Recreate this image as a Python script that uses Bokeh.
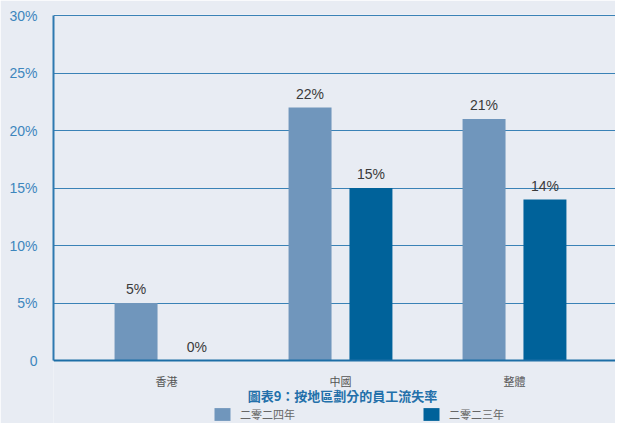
from bokeh.plotting import figure
from bokeh.models import (ColumnDataSource, Range1d, FixedTicker, LabelSet, Label,
                          Legend, LegendItem, Span)
from bokeh.core.properties import value
from bokeh.embed import file_html
from bokeh.resources import INLINE
import numpy as np

# ---- data ----
categories = ["香港", "中國", "整體"]
rate_2024 = [5, 22, 21]
rate_2023 = [0, 15, 14]
series_names = ["二零二四年", "二零二三年"]
y_ticks = [0, 5, 10, 15, 20, 25, 30]
y_tick_labels = ["0", "5%", "10%", "15%", "20%", "25%", "30%"]
chart_title = "圖表9：按地區劃分的員工流失率"

# ---- styles ----
BG = "#e8ecf3"
C24 = "#7096bc"
C23 = "#00629a"
GRID = "#3a82b6"
TICK_C = "#3d86bd"
LATIN = "Liberation Sans"
CJK = "Noto Sans CJK TC"

xs = np.arange(len(categories))
off = 0.175
bw = 0.247

src24 = ColumnDataSource(dict(x=xs - off, top=rate_2024,
                              lab=[f"{v}%" for v in rate_2024]))
src23 = ColumnDataSource(dict(x=xs + off, top=rate_2023,
                              lab=[f"{v}%" for v in rate_2023]))
src_cat = ColumnDataSource(dict(x=xs, y=[0] * len(categories), lab=categories))

p = figure(width=615, height=423, output_backend="svg", toolbar_location=None,
           x_range=Range1d(-0.6494, 2.5805), y_range=Range1d(-5.478, 30.087),
           min_border_left=53, min_border_right=0, min_border_top=14,
           min_border_bottom=0)
p.background_fill_color = BG
p.border_fill_color = BG
p.outline_line_color = None

r24 = p.vbar(x="x", top="top", width=bw, source=src24, fill_color=C24, line_color=None)
r23 = p.vbar(x="x", top="top", width=bw, source=src23, fill_color=C23, line_color=None)

for s in (src24, src23):
    p.add_layout(LabelSet(x="x", y="top", text="lab", source=s, text_align="center",
                          text_baseline="alphabetic", y_offset=9,
                          text_color="#3a3a3a", text_font=value(LATIN),
                          text_font_size="14px"))

# grid
p.xgrid.visible = False
p.ygrid.ticker = FixedTicker(ticks=y_ticks)
p.ygrid.grid_line_color = GRID
p.ygrid.grid_line_width = 1.2

# baseline (x axis line)
p.add_layout(Span(location=0, dimension="width", line_color="#1d6ea6", line_width=2))

# y axis
ya = p.yaxis[0]
ya.ticker = FixedTicker(ticks=y_ticks)
ya.bounds = (0, 30)
ya.major_label_overrides = {t: l for t, l in zip(y_ticks, y_tick_labels)}
ya.major_tick_line_color = None
ya.minor_tick_line_color = None
ya.axis_line_color = "#2e79b0"
ya.axis_line_width = 2
ya.major_label_text_color = TICK_C
ya.major_label_text_font = LATIN
ya.major_label_text_font_size = "14px"
ya.major_label_standoff = 10

# x axis replaced by category labels under the baseline
p.xaxis.visible = False
p.add_layout(LabelSet(x="x", y="y", text="lab", source=src_cat, text_align="center",
                      text_baseline="middle", y_offset=-20, text_color="#555555",
                      text_font=value(CJK), text_font_size="11px"))

# title below chart
p.add_layout(Label(x=289, y=28, x_units="screen", y_units="screen", text=chart_title,
                   text_align="center", text_baseline="middle", text_color="#2370aa",
                   text_font=CJK, text_font_size="13px", text_font_style="bold"))

# legend
legend = Legend(items=[LegendItem(label=series_names[0], renderers=[r24]),
                       LegendItem(label=series_names[1], renderers=[r23])],
                orientation="horizontal", location=(159, 1),
                glyph_width=20, glyph_height=16, label_height=16,
                label_width=181, label_standoff=8, spacing=0, padding=0, margin=0,
                border_line_color=None, background_fill_alpha=0,
                label_text_font=CJK, label_text_font_size="11px",
                label_text_color="#666666")
p.add_layout(legend, "center")

open("out.html", "w").write(file_html(p, INLINE))
